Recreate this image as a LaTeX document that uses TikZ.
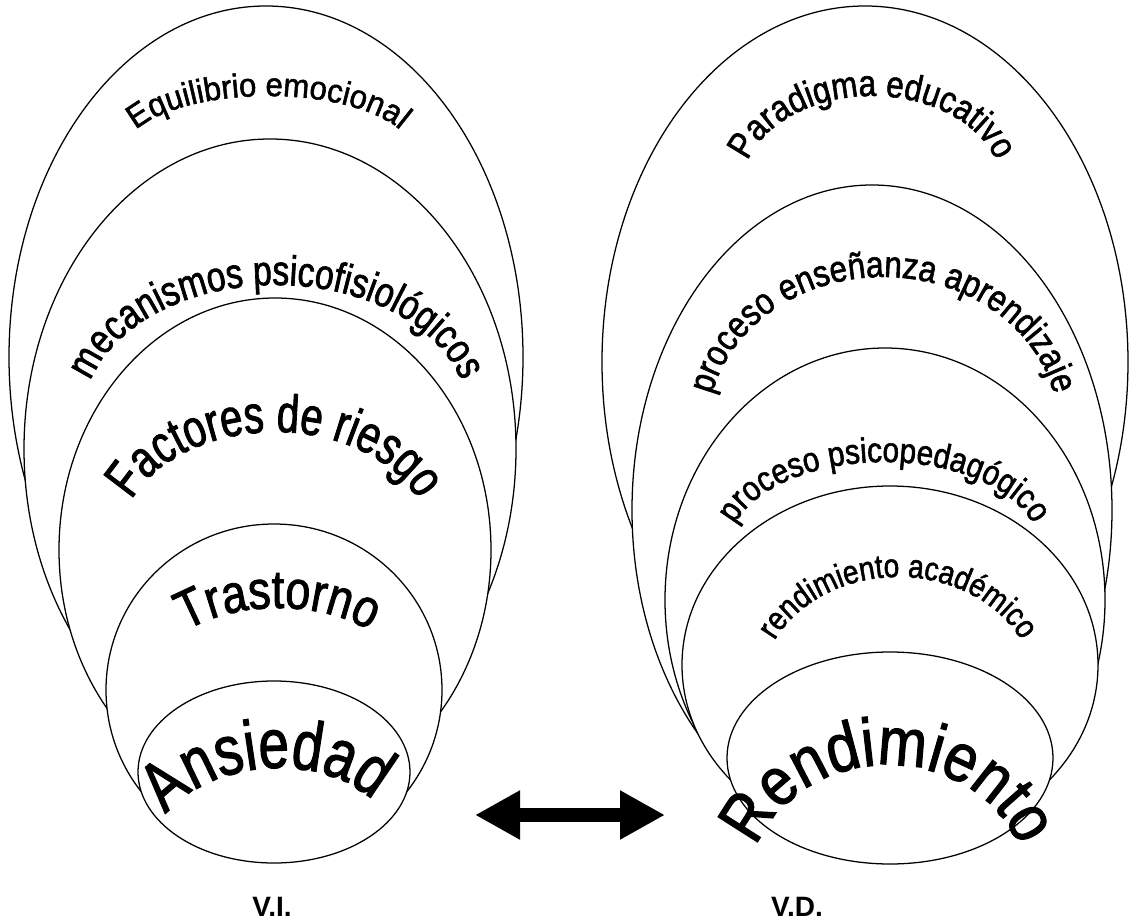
\documentclass[tikz,border=0pt]{standalone}
\usepackage{fontspec}
\usetikzlibrary{decorations.text,arrows.meta}
\newfontfamily\wsA{Liberation Sans}[FakeStretch=0.94,FakeBold=1.6]
\newfontfamily\wsB{Liberation Sans}[FakeStretch=0.80,FakeBold=1.6]
\newfontfamily\wsC{Liberation Sans}[FakeStretch=0.83,FakeBold=1.6]
\newfontfamily\wsD{Liberation Sans}[FakeStretch=0.78,FakeBold=1.6]
\newfontfamily\wsE{Liberation Sans}[FakeStretch=0.85,FakeBold=1.6]
\newfontfamily\wsF{Liberation Sans}[FakeStretch=0.86,FakeBold=1.6]
\newfontfamily\wsG{Liberation Sans}[FakeStretch=0.75,FakeBold=1.6]
\newfontfamily\vlabfont{Liberation Sans Bold}
\newcommand\LabA{\wsA\fontsize{24.75}{30}\selectfont}
\newcommand\LabB{\wsB\fontsize{31.5}{36}\selectfont}
\newcommand\LabC{\wsG\fontsize{40}{46}\selectfont}
\newcommand\LabD{\wsC\fontsize{40.5}{48}\selectfont}
\newcommand\LabE{\wsD\fontsize{52.5}{60}\selectfont}
\newcommand\LabF{\wsE\fontsize{27.75}{33}\selectfont}
\newcommand\LabG{\wsE\fontsize{27.75}{33}\selectfont}
\newcommand\LabH{\wsE\fontsize{26.25}{31}\selectfont}
\newcommand\LabI{\wsE\fontsize{24.75}{30}\selectfont}
\newcommand\LabJ{\wsF\fontsize{51}{58}\selectfont}
\tikzset{
  ell/.style={draw=black,line width=0.95pt,fill=white},
  archtext/.style={decorate,decoration={text along path,text align=center,text={#1}}},
  vlab/.style={font=\vlabfont\fontsize{21}{24}\selectfont,inner sep=0pt}
}
\begin{document}
\begin{tikzpicture}[x=0.75pt,y=0.75pt]
\useasboundingbox (0,0) rectangle (1133,-924);
\fill[white] (0,0) rectangle (1133,-924);
% left group
\coordinate (cE1) at (266,-357);
\coordinate (cE2) at (270,-449);
\coordinate (cE3) at (275,-550);
\coordinate (cT) at (274,-690);
\coordinate (cA) at (274,-772);
\draw[ell] (cE1) ellipse [x radius=257, y radius=351];
\draw[ell] (cE2) ellipse [x radius=246, y radius=310];
\draw[ell] (cE3) ellipse [x radius=216, y radius=252];
\draw[ell] (cT) ellipse [x radius=168, y radius=166];
\draw[ell] (cA) ellipse [x radius=136, y radius=91];
% right group
\coordinate (cR1) at (865,-362);
\coordinate (cR2) at (872,-510);
\coordinate (cR3) at (885,-600);
\coordinate (cR4) at (890,-665);
\coordinate (cRd) at (890,-758);
\draw[ell] (cR1) ellipse [x radius=263, y radius=356];
\draw[ell] (cR2) ellipse [x radius=240, y radius=325];
\draw[ell] (cR3) ellipse [x radius=220, y radius=252];
\draw[ell] (cR4) ellipse [x radius=208, y radius=179];
\draw[ell] (cRd) ellipse [x radius=163, y radius=106];
% arched texts, left
\path[archtext={|\LabA|Equilibrio emocional}] (123,-154) arc[start angle=180,end angle=0,x radius=145,y radius=58];
\path[archtext={|\LabB|mecanismos psicofisiológicos}] (84,-415) arc[start angle=180,end angle=0,x radius=192,y radius=130];
\path[archtext={|\LabC|Factores de riesgo}] (120,-542) arc[start angle=180,end angle=0,x radius=155,y radius=110];
\path[archtext={|\LabD|Trastorno}] (148,-686) arc[start angle=180,end angle=0,x radius=130,y radius=78];
\path[rotate around={4:(273,-858)},archtext={|\LabE|Ansiedad}] (148,-858) arc[start angle=180,end angle=0,x radius=125,y radius=90];
% arched texts, right
\path[archtext={|\LabF|Paradigma educativo}] (742,-188) arc[start angle=180,end angle=0,x radius=130,y radius=92];
\path[archtext={|\LabG|proceso enseñanza aprendizaje}] (708,-427) arc[start angle=180,end angle=0,x radius=175,y radius=150];
\path[archtext={|\LabH|proceso psicopedagógico}] (729,-548) arc[start angle=180,end angle=0,x radius=155,y radius=86];
\path[archtext={|\LabI|rendimiento académico}] (760,-692) arc[start angle=180,end angle=0,x radius=138,y radius=115];
\path[archtext={|\LabJ|Rendimiento}] (748,-890) arc[start angle=180,end angle=0,x radius=140,y radius=125];
% arrow
\coordinate (al) at (475,-815);
\coordinate (ar) at (665,-815);
\draw[line width=10.5pt,{Triangle[length=33.75pt,width=34.5pt]}-{Triangle[length=33.75pt,width=34.5pt]}] (al) -- (ar);
% labels
\node[vlab] (vi) at (272,-907) {V.I.};
\node[vlab] (vd) at (797,-907) {V.D.};
\end{tikzpicture}
\end{document}
